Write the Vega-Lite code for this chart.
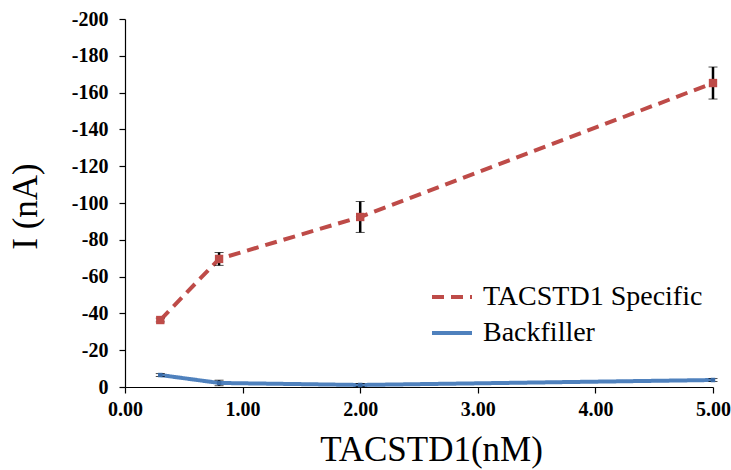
{
  "$schema": "https://vega.github.io/schema/vega-lite/v6.json",
  "width": 588,
  "height": 368,
  "autosize": "none",
  "padding": {"left": 125, "top": 19, "right": 18, "bottom": 83},
  "background": "white",
  "config": {
    "view": {"stroke": null},
    "font": "Liberation Serif",
    "axis": {
      "grid": false,
      "domainColor": "black",
      "tickColor": "black",
      "domainWidth": 1.2,
      "tickWidth": 1.2,
      "tickSize": 6,
      "labelColor": "black",
      "labelFlush": false,
      "labelOverlap": false,
      "titleFontWeight": "normal",
      "titleFontSize": 35,
      "titleColor": "black"
    }
  },
  "data": {
    "values": [
      {"series": "TACSTD1 Specific", "conc": 0.3, "current": -36.4, "err": 1.0},
      {"series": "TACSTD1 Specific", "conc": 0.8, "current": -69.6, "err": 3.5},
      {"series": "TACSTD1 Specific", "conc": 2.0, "current": -92.4, "err": 8.4},
      {"series": "TACSTD1 Specific", "conc": 5.0, "current": -165.2, "err": 8.7},
      {"series": "Backfiller", "conc": 0.3, "current": -6.5, "err": 0.8},
      {"series": "Backfiller", "conc": 0.8, "current": -2.2, "err": 1.5},
      {"series": "Backfiller", "conc": 2.0, "current": -1.1, "err": 0.8},
      {"series": "Backfiller", "conc": 5.0, "current": -3.8, "err": 0.8}
    ]
  },
  "encoding": {
    "x": {
      "field": "conc",
      "type": "quantitative",
      "scale": {"domain": [0, 5], "nice": false, "zero": false},
      "axis": {
        "values": [0, 1, 2, 3, 4, 5],
        "format": ".2f",
        "labelFont": "Liberation Serif",
        "labelFontWeight": "bold",
        "labelFontSize": 20,
        "labelPadding": 6,
        "title": "TACSTD1(nM)",
        "titleFont": "Liberation Serif",
        "titleX": 306,
        "titleY": 73,
        "titleAlign": "center",
        "titleBaseline": "alphabetic"
      }
    },
    "y": {
      "field": "current",
      "type": "quantitative",
      "scale": {"domain": [-200, 0], "reverse": true, "nice": false, "zero": false},
      "axis": {
        "values": [-200, -180, -160, -140, -120, -100, -80, -60, -40, -20, 0],
        "labelExpr": "datum.value == 0 ? '0' : '-' + format(-datum.value, 'd')",
        "labelFont": "Liberation Serif",
        "labelFontWeight": "bold",
        "labelFontSize": 20,
        "labelPadding": 11,
        "title": "I (nA)",
        "titleFont": "Liberation Serif",
        "titleAngle": -90,
        "titleX": -89,
        "titleY": 187,
        "titleAlign": "center",
        "titleBaseline": "alphabetic"
      }
    }
  },
  "layer": [
    {
      "mark": {"type": "line", "strokeWidth": 4},
      "encoding": {
        "color": {
          "field": "series",
          "type": "nominal",
          "scale": {"domain": ["TACSTD1 Specific", "Backfiller"], "range": ["#BE4B48", "#4F81BD"]},
          "legend": {
            "title": null,
            "orient": "none",
            "legendX": 305,
            "legendY": 256,
            "labelFont": "Liberation Serif",
            "labelFontSize": 28,
            "labelColor": "black",
            "labelOffset": 9,
            "labelLimit": 400,
            "symbolType": "stroke",
            "symbolSize": 1600,
            "symbolStrokeWidth": 4,
            "rowPadding": -6,
            "padding": 0
          }
        },
        "strokeDash": {
          "field": "series",
          "type": "nominal",
          "scale": {"domain": ["TACSTD1 Specific", "Backfiller"], "range": [[12, 7], [1, 0]]},
          "legend": null
        }
      }
    },
    {
      "mark": {"type": "errorbar", "ticks": {"size": 9, "color": "black", "strokeWidth": 2.5}, "rule": {"color": "black", "strokeWidth": 2.5}},
      "encoding": {
        "yError": {"field": "err"}
      }
    },
    {
      "transform": [{"filter": "datum.series == 'TACSTD1 Specific'"}],
      "mark": {"type": "point", "shape": "square", "filled": true, "size": 70, "color": "#BE4B48", "opacity": 1}
    },
    {
      "transform": [{"filter": "datum.series == 'Backfiller'"}],
      "mark": {"type": "point", "shape": "square", "filled": true, "size": 20, "color": "#3A6AA5", "opacity": 1}
    }
  ]
}
